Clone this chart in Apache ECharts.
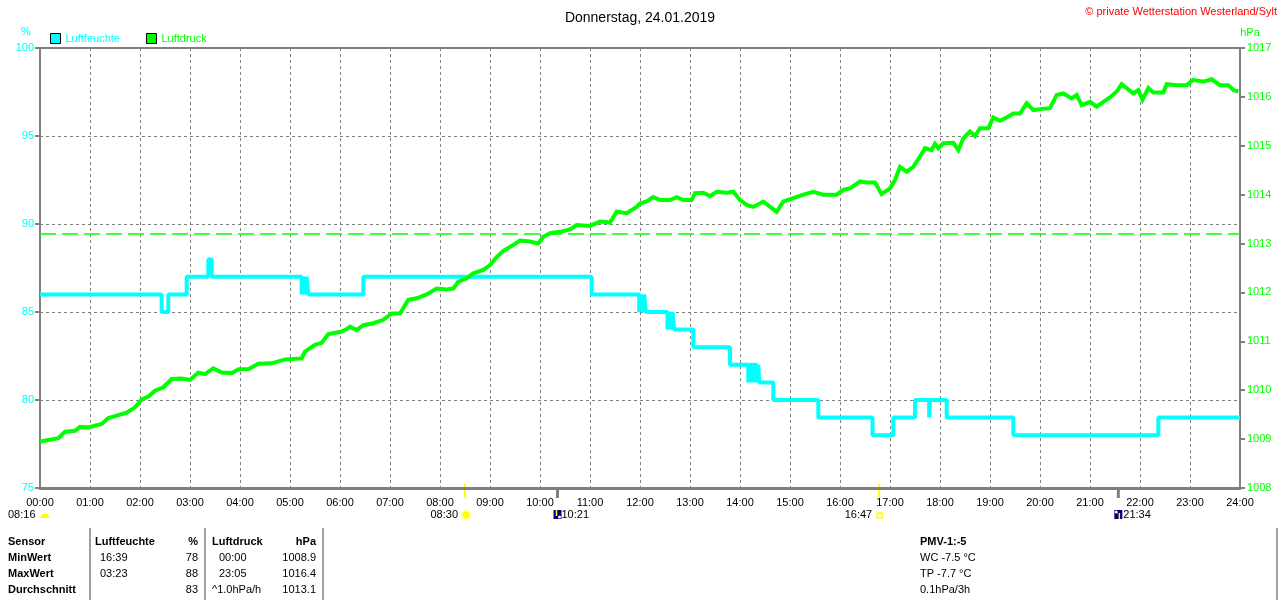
<!DOCTYPE html>
<html>
<head>
<meta charset="utf-8">
<title>Donnerstag, 24.01.2019</title>
<script src="https://cdn.jsdelivr.net/npm/echarts@6/dist/echarts.min.js"></script>
<style>
  html, body { margin: 0; padding: 0; background: #fff; }
  #main { width: 1280px; height: 600px; }
</style>
</head>
<body>
<div id="main"></div>
<script>
// Luftfeuchte: Wechselzeitpunkte (Minuten ab 00:00) und Werte in %
var humMinutes = [0, 146, 154, 176, 202, 206, 314, 316, 318, 320, 322, 388, 662, 719, 721, 723, 725, 727,
    753, 755, 757, 759, 761, 784, 828, 850, 852, 855, 857, 860, 862, 863, 880, 934, 999, 1024, 1050,
    1067, 1068, 1088, 1168, 1342, 1440];
var humValues = [86, 85, 86, 87, 88, 87, 86, 87, 86, 87, 86, 87, 86, 85, 86, 85, 86, 85,
    84, 85, 84, 85, 84, 83, 82, 81, 82, 81, 82, 81, 82, 81, 80, 79, 78, 79, 80,
    79, 80, 79, 78, 79, 79];

// Luftdruck: Minuten ab 00:00 und Werte in hPa
var pressMinutes = [0, 10, 22, 30, 42, 48, 58, 74, 82, 94, 104, 114, 122, 130, 138, 148, 158, 170, 180, 190,
    198, 208, 218, 230, 238, 250, 262, 278, 294, 314, 318, 330, 338, 346, 362, 368, 372, 380, 388, 400,
    412, 422, 432, 442, 452, 464, 476, 488, 496, 502, 512, 520, 532, 540, 548, 556, 568, 576, 588, 598,
    604, 612, 624, 636, 644, 660, 672, 684, 692, 704, 716, 720, 728, 736, 744, 756, 764, 772, 782, 786,
    796, 804, 812, 824, 832, 840, 848, 856, 868, 880, 884, 892, 904, 916, 928, 940, 956, 964, 972, 984,
    992, 1002, 1010, 1020, 1026, 1032, 1040, 1048, 1056, 1062, 1070, 1074, 1078, 1084, 1096, 1102, 1108, 1116, 1122, 1128,
    1138, 1144, 1152, 1160, 1168, 1176, 1184, 1192, 1200, 1212, 1220, 1228, 1238, 1244, 1250, 1260, 1268, 1276, 1284, 1292,
    1298, 1304, 1312, 1318, 1323, 1330, 1336, 1348, 1352, 1364, 1376, 1384, 1396, 1406, 1416, 1426, 1432, 1438];
var pressValues = [1008.95, 1008.98, 1009.02, 1009.15, 1009.17, 1009.25, 1009.24, 1009.31, 1009.43, 1009.49,
    1009.54, 1009.65, 1009.81, 1009.87, 1009.99, 1010.06, 1010.23, 1010.24, 1010.21, 1010.36,
    1010.33, 1010.45, 1010.36, 1010.35, 1010.43, 1010.43, 1010.54, 1010.55, 1010.63, 1010.65,
    1010.79, 1010.93, 1010.97, 1011.15, 1011.20, 1011.25, 1011.30, 1011.23, 1011.33, 1011.37,
    1011.44, 1011.57, 1011.57, 1011.85, 1011.88, 1011.96, 1012.08, 1012.06, 1012.08, 1012.22,
    1012.29, 1012.39, 1012.46, 1012.56, 1012.72, 1012.85, 1012.97, 1013.06, 1013.04, 1013.00,
    1013.14, 1013.21, 1013.24, 1013.29, 1013.38, 1013.36, 1013.45, 1013.43, 1013.65, 1013.62,
    1013.75, 1013.82, 1013.86, 1013.95, 1013.89, 1013.89, 1013.95, 1013.89, 1013.89, 1014.03,
    1014.04, 1013.97, 1014.06, 1014.04, 1014.06, 1013.89, 1013.79, 1013.75, 1013.86, 1013.70,
    1013.65, 1013.86, 1013.93, 1014.00, 1014.06, 1014.00, 1014.00, 1014.10, 1014.13, 1014.27,
    1014.25, 1014.25, 1014.01, 1014.13, 1014.30, 1014.57, 1014.47, 1014.57, 1014.78, 1014.95,
    1014.91, 1015.04, 1014.95, 1015.05, 1015.06, 1014.91, 1015.15, 1015.29, 1015.20, 1015.36,
    1015.36, 1015.58, 1015.51, 1015.58, 1015.66, 1015.66, 1015.87, 1015.73, 1015.75, 1015.77,
    1016.04, 1016.07, 1015.97, 1016.04, 1015.83, 1015.90, 1015.80, 1015.90, 1015.99, 1016.11,
    1016.26, 1016.18, 1016.07, 1016.14, 1015.94, 1016.18, 1016.09, 1016.09, 1016.26, 1016.24,
    1016.24, 1016.35, 1016.31, 1016.36, 1016.24, 1016.24, 1016.14, 1016.11];

var pressAverage = 1013.2;

// Sonne / Mond (Minuten ab 00:00)
var sunriseMin = 510, moonsetMin = 621, sunsetMin = 1007, moonriseMin = 1294;
var sunriseLabel = '08:30', moonsetLabel = '10:21', sunsetLabel = '16:47', moonriseLabel = '21:34';
var dawnLabel = '08:16';

// Tabelle unten
var tableLabels = ['Sensor', 'MinWert', 'MaxWert', 'Durchschnitt'];
var humTimes = ['Luftfeuchte', '16:39', '03:23', ''];
var humStats = ['%', '78', '88', '83'];
var pressTimes = ['Luftdruck', '00:00', '23:05', '^1.0hPa/h'];
var pressStats = ['hPa', '1008.9', '1016.4', '1013.1'];
var extraInfo = ['PMV-1:-5', 'WC -7.5 °C', 'TP -7.7 °C', '0.1hPa/3h'];

var CYAN = '#00ffff';
var GREEN = '#00ff00';
var GRAY = '#808080';
var FONT = 'Liberation Sans, Arial, sans-serif';

function pad(n) { return n < 10 ? '0' + n : '' + n; }

var humData = humMinutes.map(function (m, i) { return [m, humValues[i]]; });
var pressData = pressMinutes.map(function (m, i) { return [m, pressValues[i]]; });

var chart = echarts.init(document.getElementById('main'));

var option = {
    backgroundColor: '#fff',
    animation: false,
    textStyle: { fontFamily: FONT },
    title: {
        text: 'Donnerstag, 24.01.2019',
        left: 'center',
        top: 6,
        textStyle: { fontSize: 14, fontWeight: 'normal', color: '#000', fontFamily: FONT }
    },
    legend: {
        left: 50,
        top: 33,
        padding: 0,
        icon: 'rect',
        itemWidth: 10,
        itemHeight: 10,
        itemGap: 26,
        itemStyle: { borderColor: '#000', borderWidth: 1 },
        textStyle: { fontSize: 11, fontFamily: FONT },
        data: [
            { name: 'Luftfeuchte', textStyle: { color: CYAN } },
            { name: 'Luftdruck', textStyle: { color: GREEN } }
        ]
    },
    grid: {
        left: 40, right: 40, top: 48, bottom: 112,
        show: true,
        borderColor: GRAY,
        borderWidth: 2
    },
    xAxis: {
        type: 'value',
        min: 0,
        max: 1440,
        interval: 60,
        axisLine: { lineStyle: { color: GRAY, width: 3 } },
        axisTick: { show: false },
        axisLabel: {
            color: '#000',
            fontSize: 11,
            margin: 9,
            fontFamily: FONT,
            formatter: function (v) { return pad(Math.round(v / 60)) + ':00'; }
        },
        splitLine: { show: true, lineStyle: { color: GRAY, type: [3, 3], width: 1 } }
    },
    yAxis: [
        {
            type: 'value',
            position: 'left',
            min: 75,
            max: 100,
            interval: 5,
            axisLine: { show: true, lineStyle: { color: GRAY, width: 2 } },
            axisTick: { show: true, length: 5, lineStyle: { color: GRAY, width: 2 } },
            axisLabel: { color: CYAN, fontSize: 11, margin: 6, fontFamily: FONT },
            splitLine: { show: true, lineStyle: { color: GRAY, type: [3, 3], width: 1 } }
        },
        {
            type: 'value',
            position: 'right',
            min: 1008,
            max: 1017,
            interval: 1,
            axisLine: { show: true, lineStyle: { color: GRAY, width: 2 } },
            axisTick: { show: true, length: 5, lineStyle: { color: GRAY, width: 2 } },
            axisLabel: {
                color: GREEN, fontSize: 11, margin: 7, fontFamily: FONT,
                formatter: function (v) { return String(v); }
            },
            splitLine: { show: false }
        }
    ],
    series: [
        {
            name: 'Luftfeuchte',
            type: 'line',
            yAxisIndex: 0,
            step: 'end',
            data: humData,
            showSymbol: false,
            symbol: 'none',
            color: CYAN,
            lineStyle: { color: CYAN, width: 4 },
            z: 2
        },
        {
            name: 'Luftdruck',
            type: 'line',
            yAxisIndex: 1,
            data: pressData,
            showSymbol: false,
            symbol: 'none',
            color: GREEN,
            lineStyle: { color: GREEN, width: 4, join: 'miter' },
            z: 3,
            markLine: {
                silent: true,
                symbol: 'none',
                label: { show: false },
                lineStyle: { color: GREEN, type: [16, 6], width: 1.5 },
                data: [{ yAxis: pressAverage }]
            }
        }
    ]
};
chart.setOption(option);

// Zusatzgrafik: Einheiten, Copyright, Sonne/Mond, Tabelle
function px(min) { return chart.convertToPixel({ xAxisIndex: 0 }, min); }
var axisY = chart.convertToPixel({ yAxisIndex: 0 }, 75);

function txt(x, y, s, opts) {
    opts = opts || {};
    return {
        type: 'text', x: x, y: y, silent: true,
        style: {
            text: s,
            fill: opts.color || '#000',
            font: (opts.bold ? 'bold ' : '') + (opts.size || 11) + 'px ' + FONT,
            textAlign: opts.align || 'left',
            textVerticalAlign: 'middle'
        }
    };
}

var g = [];
g.push(txt(26, 32, '%', { color: CYAN, align: 'center' }));
g.push(txt(1250, 33, 'hPa', { color: GREEN, align: 'center' }));
g.push(txt(1277, 12, '© private Wetterstation Westerland/Sylt', { color: '#ff0000', align: 'right' }));

// Markierungen an der Zeitachse
var sr = px(sunriseMin), ms = px(moonsetMin), ss = px(sunsetMin), mr = px(moonriseMin);
g.push({ type: 'line', silent: true, shape: { x1: sr, y1: axisY - 4, x2: sr, y2: axisY + 10 }, style: { stroke: '#ffff00', lineWidth: 2 } });
g.push({ type: 'line', silent: true, shape: { x1: ss, y1: axisY - 4, x2: ss, y2: axisY + 10 }, style: { stroke: '#ffff00', lineWidth: 2 } });
g.push({ type: 'line', silent: true, shape: { x1: ms, y1: axisY, x2: ms, y2: axisY + 10 }, style: { stroke: GRAY, lineWidth: 3 } });
g.push({ type: 'line', silent: true, shape: { x1: mr, y1: axisY, x2: mr, y2: axisY + 10 }, style: { stroke: GRAY, lineWidth: 3 } });

var iconY = axisY + 27;
// Dämmerung
g.push(txt(8, iconY, dawnLabel));
g.push({ type: 'sector', silent: true, shape: { cx: 45, cy: iconY + 3, r0: 0, r: 4.5, startAngle: Math.PI, endAngle: Math.PI * 2 }, style: { fill: '#ffff00' } });
// Sonnenaufgang
g.push(txt(sr - 7, iconY, sunriseLabel, { align: 'right' }));
g.push({ type: 'circle', silent: true, shape: { cx: sr + 1, cy: iconY, r: 5 }, style: { fill: '#ffff99' } });
g.push({ type: 'circle', silent: true, shape: { cx: sr + 1, cy: iconY, r: 3.5 }, style: { fill: '#ffff00' } });
// Monduntergang
g.push({ type: 'rect', silent: true, shape: { x: ms - 4, y: iconY - 5, width: 8, height: 9 }, style: { fill: '#000080' } });
g.push({ type: 'line', silent: true, shape: { x1: ms - 1, y1: iconY - 5, x2: ms - 1, y2: iconY + 1 }, style: { stroke: '#ffff00', lineWidth: 1.5 } });
g.push({ type: 'circle', silent: true, shape: { cx: ms + 2, cy: iconY + 2, r: 1.5 }, style: { fill: '#fff' } });
g.push(txt(ms + 4, iconY, moonsetLabel));
// Sonnenuntergang
g.push(txt(ss - 7, iconY, sunsetLabel, { align: 'right' }));
g.push({ type: 'rect', silent: true, shape: { x: ss - 2, y: iconY - 2, width: 5, height: 5 }, style: { fill: 'none', stroke: '#ffff00', lineWidth: 1.5 } });
// Mondaufgang
g.push({ type: 'rect', silent: true, shape: { x: mr - 4, y: iconY - 5, width: 8, height: 9 }, style: { fill: '#000080' } });
g.push({ type: 'line', silent: true, shape: { x1: mr + 1, y1: iconY - 2, x2: mr + 1, y2: iconY + 4 }, style: { stroke: '#ffff00', lineWidth: 1.5 } });
g.push({ type: 'circle', silent: true, shape: { cx: mr - 2, cy: iconY - 3, r: 1.5 }, style: { fill: '#fff' } });
g.push(txt(mr + 5, iconY, moonriseLabel));

// Tabelle
var rowY = [542, 558, 574, 590];
[90, 205, 323, 1277].forEach(function (x) {
    g.push({ type: 'line', silent: true, shape: { x1: x, y1: 528, x2: x, y2: 600 }, style: { stroke: GRAY, lineWidth: 1.5 } });
});
rowY.forEach(function (y, i) {
    var head = i === 0;
    g.push(txt(8, y, tableLabels[i], { bold: true }));
    g.push(txt(head ? 95 : 100, y, humTimes[i], { bold: head }));
    g.push(txt(198, y, humStats[i], { bold: head, align: 'right' }));
    g.push(txt(head || i === 3 ? 212 : 219, y, pressTimes[i], { bold: head }));
    g.push(txt(316, y, pressStats[i], { bold: head, align: 'right' }));
    g.push(txt(920, y, extraInfo[i], { bold: head }));
});

chart.setOption({ graphic: g });
</script>
</body>
</html>
